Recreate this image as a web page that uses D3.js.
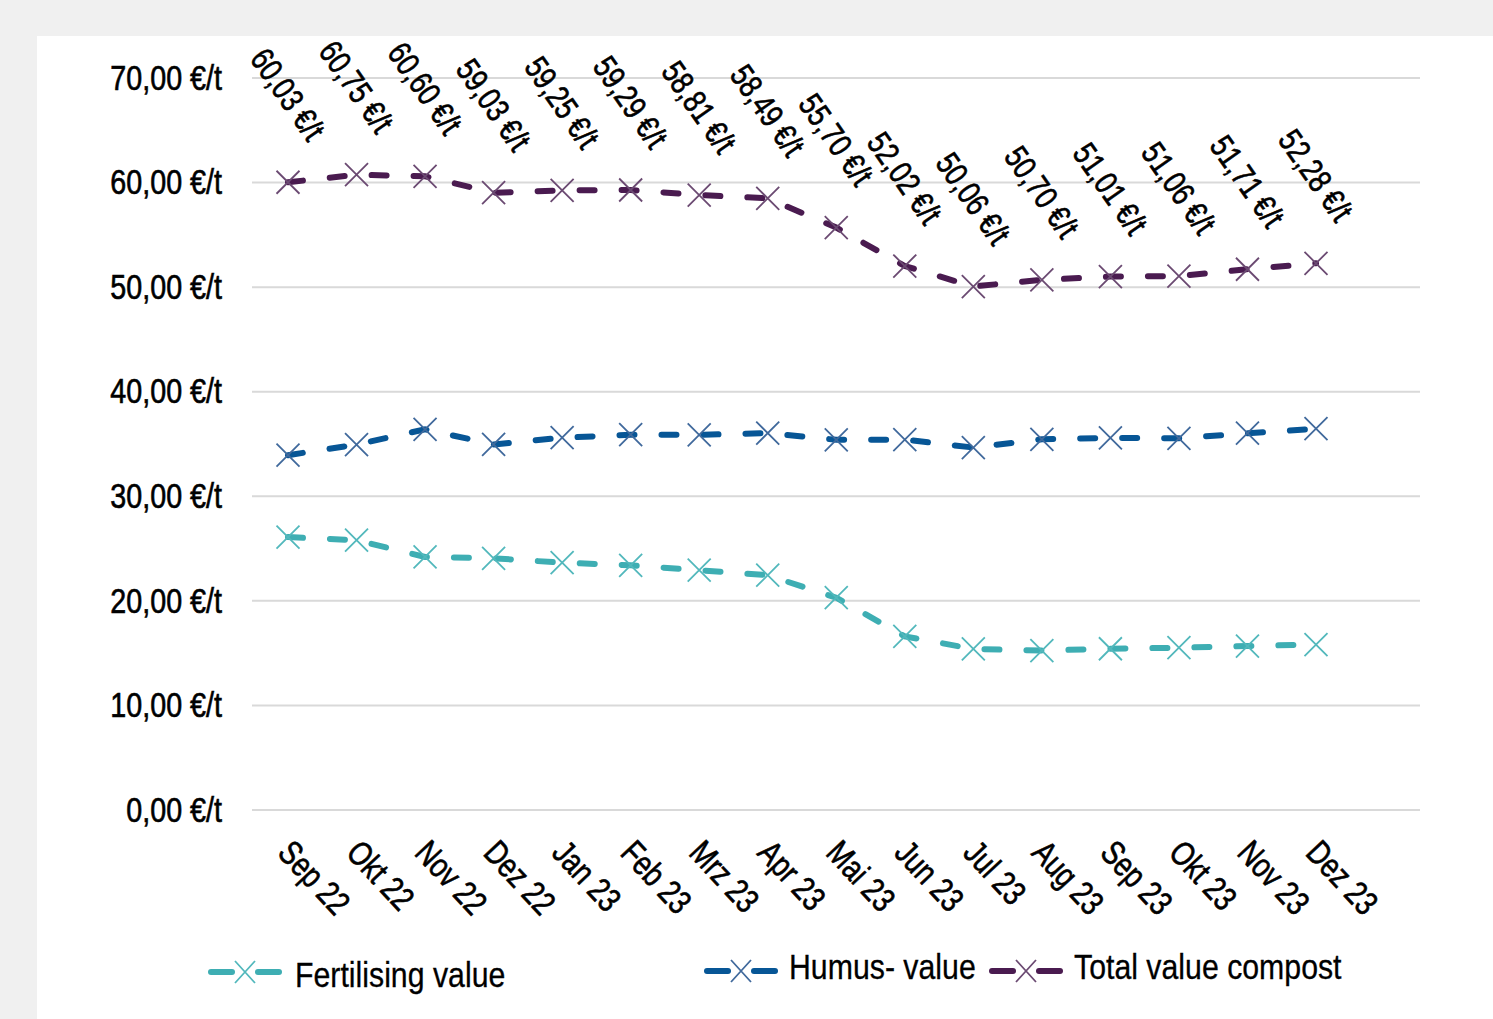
<!DOCTYPE html>
<html>
<head>
<meta charset="utf-8">
<script src="https://cdn.jsdelivr.net/npm/d3@7"></script>
<style>
  html, body { margin: 0; padding: 0; background: #f0f0f0; }
  svg { display: block; }
  text { font-family: "Liberation Sans", Arial, sans-serif; fill: #000; stroke: #000; stroke-width: 0.65px; }
  text.legend-text { stroke-width: 0.3px; }
</style>
</head>
<body>
<svg id="chart" width="1493" height="1019"></svg>
<script>
// Monthly compost values (€/t)
const months = ["Sep 22", "Okt 22", "Nov 22", "Dez 22", "Jan 23", "Feb 23", "Mrz 23", "Apr 23",
                "Mai 23", "Jun 23", "Jul 23", "Aug 23", "Sep 23", "Okt 23", "Nov 23", "Dez 23"];
const fertilisingValue = [26.10, 25.80, 24.20, 24.07, 23.65, 23.40, 22.93, 22.45,
                          20.30, 16.60, 15.40, 15.25, 15.42, 15.52, 15.68, 15.82];
const humusValue = [33.93, 34.95, 36.40, 34.96, 35.60, 35.89, 35.88, 36.04,
                    35.40, 35.42, 34.66, 35.45, 35.59, 35.54, 36.03, 36.46];
const totalValue = [60.03, 60.75, 60.60, 59.03, 59.25, 59.29, 58.81, 58.49,
                    55.70, 52.02, 50.06, 50.70, 51.01, 51.06, 51.71, 52.28];
const yTicks = [0, 10, 20, 30, 40, 50, 60, 70];

const seriesNames = ["Fertilising value", "Humus- value", "Total value compost"];
const lineColors = ["#3eaeb3", "#075696", "#4a1b50"];
const markColors = ["#52b8bc", "#40699c", "#6b4a72"];

// narrow lettering: horizontal squeeze applied along each text's own baseline
const NARROW = 0.8;

const fmt = v => d3.format(".2f")(v).replace(".", ",") + " €/t";

const svg = d3.select("#chart");

// white panel
svg.append("rect").attr("x", 37).attr("y", 36).attr("width", 1493 - 37).attr("height", 1019 - 36).attr("fill", "#fff");

const x = d3.scalePoint().domain(months).range([288, 1316]);
const y = d3.scaleLinear().domain([0, 70]).range([810, 78]);

// gridlines
svg.append("g").selectAll("line").data(yTicks).join("line")
  .attr("x1", 252).attr("x2", 1420)
  .attr("y1", d => y(d)).attr("y2", d => y(d))
  .attr("stroke", "#d9d9d9").attr("stroke-width", 2);

// y axis labels
const yAxis = d3.axisLeft(y).tickValues(yTicks).tickSize(0).tickPadding(0)
  .tickFormat(d => fmt(d));
const yg = svg.append("g").attr("transform", "translate(222,0)").call(yAxis);
yg.select(".domain").remove();
yg.selectAll("text")
  .attr("x", 0).attr("font-size", 35).attr("font-family", null).attr("fill", "#000")
  .attr("transform", `scale(0.82,1)`);

// x axis labels (rotated)
const xAxis = d3.axisBottom(x).tickSize(0).tickPadding(0);
const xg = svg.append("g").call(xAxis);
xg.select(".domain").remove();
xg.selectAll(".tick").attr("transform", d => `translate(${x(d) - 3},846)`);
xg.selectAll("text")
  .attr("y", 0).attr("dy", "0.35em")
  .attr("font-size", 34).attr("font-family", null).attr("fill", "#000")
  .attr("text-anchor", "start")
  .attr("transform", `rotate(47) scale(${NARROW},1)`);

// series lines and markers
const series = [fertilisingValue, humusValue, totalValue];
const line = d3.line().x((d, i) => x(months[i])).y(d => y(d));

series.forEach((vals, si) => {
  svg.append("path").datum(vals)
    .attr("d", line)
    .attr("fill", "none")
    .attr("stroke", lineColors[si])
    .attr("stroke-width", 6)
    .attr("stroke-linecap", "round")
    .attr("stroke-dasharray", "15,27");
  svg.append("g").selectAll("path").data(vals).join("path")
    .attr("transform", (d, i) => `translate(${x(months[i])},${y(d)})`)
    .attr("d", "M-11.5,-11.5L11.5,11.5M-11.5,11.5L11.5,-11.5")
    .attr("stroke", markColors[si])
    .attr("stroke-width", 1.8)
    .attr("fill", "none");
});

// value labels on the total series
svg.append("g").selectAll("text").data(totalValue).join("text")
  .attr("transform", (d, i) => `translate(${x(months[i])},${y(d) - 88}) rotate(55) scale(${NARROW},1)`)
  .attr("text-anchor", "middle")
  .attr("dy", "0.35em")
  .attr("font-size", 33)
  .text(d => fmt(d));

// legend
const legendItems = [
  { x: 208, y: 972, textX: 295, textY: 987 },
  { x: 704, y: 971, textX: 789, textY: 979 },
  { x: 989, y: 971, textX: 1074, textY: 979 }
];
legendItems.forEach((it, si) => {
  const g = svg.append("g").attr("transform", `translate(${it.x},${it.y})`);
  g.append("line").attr("x1", 3).attr("x2", 24).attr("y1", 0).attr("y2", 0)
    .attr("stroke", lineColors[si]).attr("stroke-width", 6).attr("stroke-linecap", "round");
  g.append("line").attr("x1", 50).attr("x2", 71).attr("y1", 0).attr("y2", 0)
    .attr("stroke", lineColors[si]).attr("stroke-width", 6).attr("stroke-linecap", "round");
  g.append("path").attr("d", "M27,-11L47,11M27,11L47,-11")
    .attr("stroke", markColors[si]).attr("stroke-width", 1.8).attr("fill", "none");
  svg.append("text")
    .attr("class", "legend-text")
    .attr("transform", `translate(${it.textX},${it.textY}) scale(0.865,1)`)
    .attr("font-size", 35).text(seriesNames[si]);
});
</script>
</body>
</html>
